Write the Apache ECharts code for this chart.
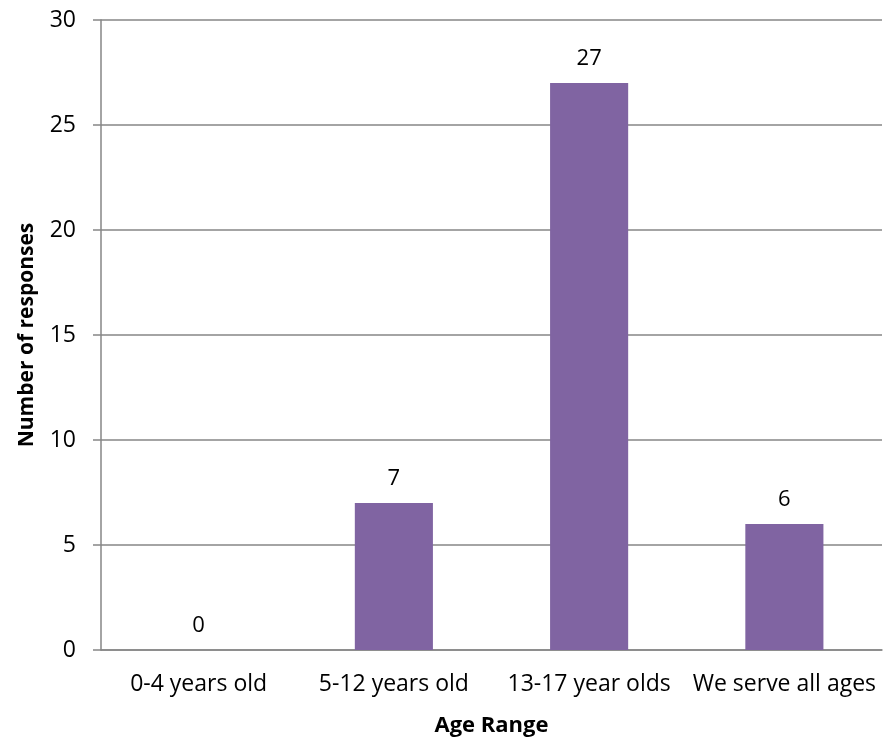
<!DOCTYPE html>
<html><head><meta charset="utf-8">
<script src="https://cdn.jsdelivr.net/npm/echarts@6/dist/echarts.min.js"></script>
<style>html,body{margin:0;padding:0;background:#fff}#c{width:885px;height:743px}</style>
</head><body><div id="c"></div>
<script>
const categories = ['0-4 years old', '5-12 years old', '13-17 year olds', 'We serve all ages'];
const responses = [0, 7, 27, 6];
const yTicks = [0, 5, 10, 15, 20, 25, 30];
const FONT = '"Open Sans", sans-serif';
const chart = echarts.init(document.getElementById('c'));
chart.setOption({
  animation: false,
  backgroundColor: '#fff',
  grid: { left: 101, right: 3, top: 20, bottom: 93, containLabel: false },
  xAxis: {
    type: 'category', data: categories,
    name: 'Age Range', nameLocation: 'middle', nameGap: 65,
    nameTextStyle: { fontFamily: FONT, fontSize: 22, fontWeight: 'bold', color: '#000' },
    axisLine: { show: true, lineStyle: { color: '#868686', width: 1.5 } },
    axisTick: { show: false },
    axisLabel: { fontFamily: FONT, fontSize: 23, color: '#000', margin: 23, interval: 0 }
  },
  yAxis: {
    type: 'value', min: yTicks[0], max: yTicks[yTicks.length - 1], interval: 5,
    name: 'Number of responses', nameLocation: 'middle', nameGap: 63, nameRotate: 90,
    nameTextStyle: { fontFamily: FONT, fontSize: 21, fontWeight: 'bold', color: '#000' },
    axisLine: { show: true, lineStyle: { color: '#868686', width: 1.5 } },
    axisTick: { show: true, length: 8, inside: false, lineStyle: { color: '#868686', width: 1.5 } },
    splitLine: { show: true, lineStyle: { color: '#868686', width: 1.5 } },
    axisLabel: { fontFamily: FONT, fontSize: 23, color: '#000', margin: 25 }
  },
  series: [{
    type: 'bar', data: responses, barWidth: '40%',
    itemStyle: { color: '#8064A2' },
    label: { show: true, position: 'top', distance: 13, fontFamily: FONT, fontSize: 22, color: '#000' }
  }]
});
</script></body></html>
